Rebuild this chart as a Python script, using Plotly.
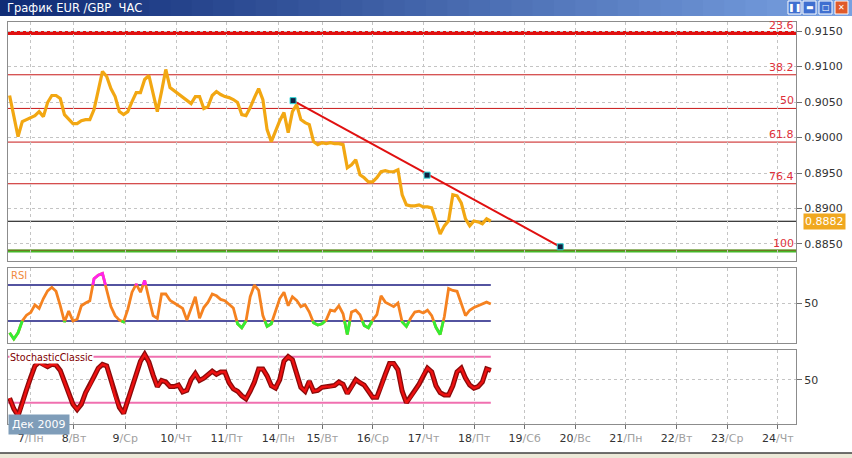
import plotly.graph_objects as go

W, H = 852, 458

# ---------------- data ----------------
# time axis: hours from midnight Mon 7 Dec 2009 (chart's own time scale)
day_ticks = [0, 20.5, 44.8, 68.9, 92.9, 117.3, 138.2, 162.1, 186.1, 210.1,
             234.0, 258.0, 282.0, 306.0, 330.0, 354.0]
day_nums = ['7', '8', '9', '10', '11', '14', '15', '16', '17', '18',
            '19', '20', '21', '22', '23', '24']
day_names = ['Пн', 'Вт', 'Ср', 'Чт', 'Пт', 'Пн', 'Вт', 'Ср', 'Чт', 'Пт',
             'Сб', 'Вс', 'Пн', 'Вт', 'Ср', 'Чт']

hours = list(range(-10, 220, 2))

price = [0.90592, 0.90281, 0.90012, 0.90224, 0.90252, 0.90281, 0.90309, 0.90365, 0.90295, 0.90493,
         0.90592, 0.90592, 0.90549, 0.90323, 0.90252, 0.90196, 0.90196, 0.90238, 0.90252, 0.90252,
         0.90394, 0.90676, 0.90931, 0.90860, 0.90690, 0.90577, 0.90365, 0.90323, 0.90365, 0.90507,
         0.90634, 0.90634, 0.90818, 0.90874, 0.90606, 0.90365, 0.90648, 0.90959, 0.90705, 0.90662,
         0.90620, 0.90577, 0.90521, 0.90479, 0.90577, 0.90577, 0.90408, 0.90436, 0.90592, 0.90648,
         0.90606, 0.90577, 0.90563, 0.90535, 0.90493, 0.90323, 0.90309, 0.90422, 0.90563, 0.90690,
         0.90535, 0.90111, 0.89942, 0.90097, 0.90238, 0.90351, 0.90069, 0.90365, 0.90464, 0.90252,
         0.90210, 0.90182, 0.89942, 0.89899, 0.89927, 0.89913, 0.89927, 0.89913, 0.89913, 0.89899,
         0.89574, 0.89617, 0.89687, 0.89475, 0.89433, 0.89376, 0.89376, 0.89433, 0.89518, 0.89532,
         0.89518, 0.89518, 0.89546, 0.89193, 0.89051, 0.89037, 0.89037, 0.89051, 0.89023, 0.89023,
         0.89009, 0.88825, 0.88642, 0.88755, 0.88825, 0.89193, 0.89179, 0.89080, 0.88854, 0.88755,
         0.88825, 0.88811, 0.88783, 0.88854, 0.88820]

rsi = [17, 10, 17, 30, 36.5, 39.5, 48, 44, 55, 63.5,
       67.5, 63, 47, 29, 41, 30, 32, 47, 50, 52.5,
       77, 81, 83, 65, 46, 36, 31, 29, 43, 62,
       71, 62, 75, 55, 36, 33, 60, 60, 53, 50,
       47, 44, 31, 43, 57, 33, 45, 51, 60, 58,
       54, 52.5, 49, 44.5, 27, 22.5, 30, 57, 70, 64,
       36, 24, 27, 41, 55, 62, 47, 57, 53, 46,
       48, 40, 28, 25.6, 27, 31, 42, 41, 47, 38,
       15, 40, 42, 37, 25, 22.5, 31, 37, 58, 51,
       48.5, 46, 50, 29, 24, 33, 40, 41, 39, 42,
       36, 23, 15, 35, 66, 64, 63, 50, 36, 42,
       45, 47, 49, 51, 49]

stoch = [26, 12, 3, 18, 37, 53, 68, 73, 69, 67,
         70, 69, 62, 47, 31, 18, 11, 18, 33, 42,
         54, 65, 70, 68, 50, 28, 14, 6, 23, 41,
         58, 74, 83, 73, 56, 41, 49, 47, 41, 41,
         43, 34, 36, 50, 58, 49, 52, 57, 61, 57,
         60, 60, 46, 38, 35, 29, 25, 35, 47, 64,
         64, 55, 42, 39, 50, 74, 80, 76, 58, 40,
         35, 48, 35, 36, 40, 41, 41, 42.5, 47, 44,
         32, 40, 50, 46, 43, 35, 27, 27, 40, 57,
         71, 71, 63, 35, 20, 27, 36, 44, 56, 65,
         60, 42, 33, 30, 30, 42, 60, 65, 52, 43,
         39, 41, 47, 64, 62]

fib_pct = [23.6, 38.2, 50, 61.8, 76.4, 100]
fib_high, fib_low = 0.9242, 0.8840
last_price = 0.8882

trend_h = [124.3, 250.9]
trend_p = [0.9052, 0.8846]
anchor_h = [124.3, 187.8, 250.9]
anchor_p = [0.9052, 0.8947, 0.8846]

price_ticks = [0.885, 0.890, 0.895, 0.900, 0.905, 0.910, 0.915]
rsi_levels = [30, 70]
stoch_levels = [20, 80]

# ---------------- helpers ----------------
def clip_band(xs, ys, lo, hi):
    ox, oy = [], []
    for i in range(len(xs) - 1):
        x0, y0, x1, y1 = xs[i], ys[i], xs[i + 1], ys[i + 1]
        if y1 == y0:
            if lo <= y0 <= hi:
                tmin, tmax = 0.0, 1.0
            else:
                continue
        else:
            ta = (lo - y0) / (y1 - y0)
            tb = (hi - y0) / (y1 - y0)
            tmin = max(0.0, min(ta, tb))
            tmax = min(1.0, max(ta, tb))
        if tmin >= tmax:
            continue
        p0 = (x0 + tmin * (x1 - x0), y0 + tmin * (y1 - y0))
        p1 = (x0 + tmax * (x1 - x0), y0 + tmax * (y1 - y0))
        if ox and ox[-1] is not None and abs(ox[-1] - p0[0]) < 1e-9:
            ox.append(p1[0]); oy.append(p1[1])
        else:
            if ox:
                ox.append(None); oy.append(None)
            ox += [p0[0], p1[0]]; oy += [p0[1], p1[1]]
    return ox, oy

FONT = 'DejaVu Sans'
GRID = '#c4c4c4'
DASH = '3px,3px'
BORDER = '#8c8c8c'

x_range = [-10.76, 362.6]
xd = [8 / W, 796 / W]

def ydom(top, bot):
    return [1 - bot / H, 1 - top / H]

fig = go.Figure()

# price
fig.add_trace(go.Scatter(x=hours, y=price, mode='lines', xaxis='x', yaxis='y',
                         line=dict(color='#f2a712', width=3.2), hoverinfo='skip'))
# trend line
fig.add_trace(go.Scatter(x=trend_h, y=trend_p, mode='lines', xaxis='x', yaxis='y',
                         line=dict(color='#e01010', width=2), hoverinfo='skip'))
fig.add_trace(go.Scatter(x=anchor_h, y=anchor_p, mode='markers', xaxis='x', yaxis='y',
                         marker=dict(symbol='square', size=6, color='#102040',
                                     line=dict(color='#30d8d8', width=1)), hoverinfo='skip'))

# RSI
fig.add_trace(go.Scatter(x=hours, y=rsi, mode='lines', xaxis='x2', yaxis='y2',
                         line=dict(color='#f58220', width=2.8), hoverinfo='skip'))
gx, gy = clip_band(hours, rsi, -1000, rsi_levels[0])
fig.add_trace(go.Scatter(x=gx, y=gy, mode='lines', xaxis='x2', yaxis='y2',
                         line=dict(color='#33ee33', width=2.8), hoverinfo='skip'))
mx, my = clip_band(hours, rsi, rsi_levels[1], 1000)
fig.add_trace(go.Scatter(x=mx, y=my, mode='lines', xaxis='x2', yaxis='y2',
                         line=dict(color='#ff22ee', width=2.8), hoverinfo='skip'))

# Stochastic
fig.add_trace(go.Scatter(x=hours, y=stoch, mode='lines', xaxis='x3', yaxis='y3',
                         line=dict(color='#8a0a0a', width=5), hoverinfo='skip'))
fig.add_trace(go.Scatter(x=hours, y=stoch, mode='lines', xaxis='x3', yaxis='y3',
                         line=dict(color='#ee1010', width=2.4), hoverinfo='skip'))

shapes = []
annotations = []

# title bar gradient
n = 40
c0 = (16, 44, 118)
c1 = (120, 160, 225)
for i in range(n):
    t = i / (n - 1)
    col = 'rgb(%d,%d,%d)' % tuple(int(c0[k] + (c1[k] - c0[k]) * t) for k in range(3))
    shapes.append(dict(type='rect', xref='paper', yref='paper',
                       x0=i / n, x1=(i + 1) / n + 0.002, y0=1 - 16 / H, y1=1,
                       fillcolor=col, line=dict(width=0), layer='above'))
annotations.append(dict(text='График EUR /GBP  ЧАС', xref='paper', yref='paper',
                        x=5 / W, y=1 - 8 / H, xanchor='left', yanchor='middle',
                        showarrow=False, font=dict(family=FONT, size=11.5, color='white')))
# window buttons
btns = [(788, '#3f6fd0', '❚❚'), (803, '#3f6fd0', '▬'), (819, '#3f6fd0', '□'), (835, '#e05a2a', '✕')]
for bx, bc, sym in btns:
    shapes.append(dict(type='rect', xref='paper', yref='paper',
                       x0=bx / W, x1=(bx + 13) / W, y0=1 - 14 / H, y1=1 - 1 / H,
                       fillcolor=bc, line=dict(color='white', width=1), layer='above'))
    annotations.append(dict(text=sym, xref='paper', yref='paper', x=(bx + 6.5) / W, y=1 - 7.5 / H,
                            xanchor='center', yanchor='middle', showarrow=False,
                            font=dict(family=FONT, size=8, color='white')))

# fib levels
for pct in fib_pct:
    lvl = fib_high - pct / 100 * (fib_high - fib_low)
    if pct == 23.6:
        ln = dict(color='#e01010', width=4)
    elif pct == 100:
        ln = dict(color='#44b828', width=3)
    else:
        ln = dict(color='#c81818', width=1)
    shapes.append(dict(type='line', xref='x domain', yref='y', x0=0, x1=1, y0=lvl, y1=lvl,
                       line=ln, layer='below'))
    if pct == 100:
        shapes.append(dict(type='line', xref='x domain', yref='y', x0=0, x1=1, y0=lvl + 0.00012,
                           y1=lvl + 0.00012, line=dict(color='#806020', width=1), layer='below'))
    annotations.append(dict(text=('%g' % pct), xref='x domain', yref='y', x=1, y=lvl,
                            xanchor='right', yanchor='bottom', yshift=-1, showarrow=False,
                            font=dict(family=FONT, size=11, color='#e0303a')))

# last price line + label
shapes.append(dict(type='line', xref='x domain', yref='y', x0=0, x1=1, y0=last_price, y1=last_price,
                   line=dict(color='black', width=1), layer='below'))
annotations.append(dict(text='%.4f' % last_price, xref='paper', yref='y', x=803 / W, y=last_price,
                        xanchor='left', yanchor='middle', showarrow=False, bgcolor='#f0a820',
                        borderpad=1, font=dict(family=FONT, size=11, color='white')))

# RSI levels
for lv in rsi_levels:
    shapes.append(dict(type='line', xref='x2', yref='y2', x0=x_range[0], x1=hours[-1], y0=lv, y1=lv,
                       line=dict(color='#1a1a80', width=1.5), layer='below'))
# Stoch levels
for lv in stoch_levels:
    shapes.append(dict(type='line', xref='x3', yref='y3', x0=x_range[0], x1=hours[-1], y0=lv, y1=lv,
                       line=dict(color='#f070b0', width=2), layer='below'))

annotations.append(dict(text='RSI', xref='paper', yref='paper', x=9 / W, y=1 - 275 / H,
                        xanchor='left', yanchor='middle', showarrow=False,
                        font=dict(family=FONT, size=10, color='#f08a40')))
annotations.append(dict(text='StochasticClassic', xref='paper', yref='paper', x=9 / W, y=1 - 357.5 / H,
                        xanchor='left', yanchor='middle', showarrow=False, bgcolor='white',
                        borderpad=0, font=dict(family=FONT, size=9.6, color='#800000')))
annotations.append(dict(text='Дек 2009', xref='paper', yref='paper', x=8 / W, y=1 - 424 / H,
                        xanchor='left', yanchor='middle', showarrow=False, bgcolor='#7f9db9',
                        borderpad=3, font=dict(family=FONT, size=11, color='white')))

# bottom frame
shapes.append(dict(type='rect', xref='paper', yref='paper', x0=0, x1=1, y0=0, y1=1 - 453 / H,
                   fillcolor='#ece9d8', line=dict(width=0), layer='above'))
shapes.append(dict(type='line', xref='paper', yref='paper', x0=0, x1=1, y0=1 - 453 / H, y1=1 - 453 / H,
                   line=dict(color='#404040', width=1.5), layer='above'))

xtext = ["%s<span style='color:#a0a0a0'>/%s</span>" % (a, b) for a, b in zip(day_nums, day_names)]

xbase = dict(range=x_range, domain=xd, tickvals=day_ticks, showgrid=True, gridcolor=GRID,
             griddash=DASH, gridwidth=1, showline=True, mirror=True, linecolor=BORDER,
             zeroline=False, showticklabels=False, ticks='', fixedrange=True)
ybase = dict(side='right', showgrid=True, gridcolor=GRID, griddash=DASH, gridwidth=1,
             showline=True, mirror=True, linecolor=BORDER, zeroline=False, ticks='outside',
             ticklen=5, tickcolor='#707070', tickfont=dict(family=FONT, size=11, color='#333333'),
             fixedrange=True)

fig.update_layout(
    width=W, height=H, margin=dict(l=0, r=0, t=0, b=0),
    paper_bgcolor='white', plot_bgcolor='white', showlegend=False,
    xaxis=dict(xbase, anchor='y'),
    xaxis2=dict(xbase, anchor='y2', matches='x'),
    xaxis3=dict(xbase, anchor='y3', matches='x', showticklabels=True, tickmode='array',
                ticktext=xtext, ticks='outside', ticklen=4, tickcolor='#707070',
                tickfont=dict(family=FONT, size=11, color='#333333')),
    yaxis=dict(ybase, domain=ydom(22, 261), range=[0.8826, 0.91628], anchor='x',
               tickvals=price_ticks, ticktext=['%.4f' % v for v in price_ticks]),
    yaxis2=dict(ybase, domain=ydom(268, 343), range=[5.6, 88.9], anchor='x2',
                tickvals=[50], ticktext=['50']),
    yaxis3=dict(ybase, domain=ydom(350, 424), range=[-7.8, 88.7], anchor='x3',
                tickvals=[50], ticktext=['50']),
    shapes=shapes, annotations=annotations,
)

fig.write_html('out.html', config={'displayModeBar': False},
               post_script="document.body.style.margin='0';document.body.style.overflow='hidden';")
